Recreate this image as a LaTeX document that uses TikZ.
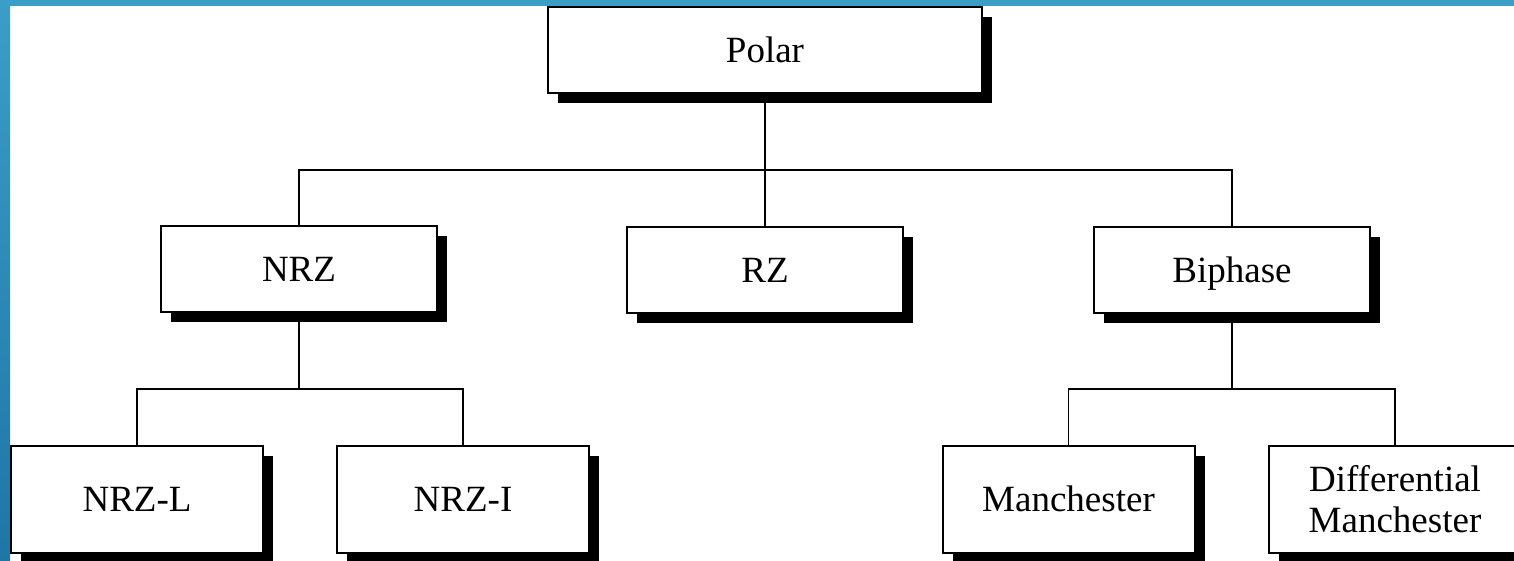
\documentclass[tikz,border=0pt]{standalone}
\usepackage{fontspec}
\setmainfont{Liberation Serif}
\usetikzlibrary{shadows}
\definecolor{bandtop}{HTML}{3B9EC8}
\definecolor{bandbot}{HTML}{1E76A6}
\tikzset{
  box/.style={draw=black, line width=2pt, fill=white, inner sep=0pt,
    align=center, font=\fontsize{37}{41}\selectfont,
    drop shadow={shadow xshift=10pt, shadow yshift=-10pt, fill=black, opacity=1}},
  oneline/.style={text height=24.5pt, text depth=0pt},
  midbox/.style={box, oneline, minimum width=276pt, minimum height=86pt},
  lowbox/.style={box, minimum width=252pt, minimum height=107pt},
  link/.style={draw=black, line width=1.8pt}
}
\begin{document}
\begin{tikzpicture}[x=1pt,y=1pt]
\useasboundingbox (0,0) rectangle (1514,-560);
\clip (0,0) rectangle (1514,-560);
\fill[white] (0,0) rectangle (1514,-560);
\fill[bandtop] (0,0) rectangle (1514,-6);
\shade[top color=bandtop, bottom color=bandbot] (0,0) rectangle (10,-560);
% nodes
\node[box, oneline, minimum width=434pt, minimum height=86pt] (polar) at (765,-50) {Polar};
\node[midbox] (nrz) at (299,-269) {NRZ};
\node[midbox] (rz) at (765,-270) {RZ};
\node[midbox] (biphase) at (1232,-270) {Biphase};
\node[lowbox, oneline] (nrzl) at (137,-499.5) {NRZ-L};
\node[lowbox, oneline] (nrzi) at (463,-499.5) {NRZ-I};
\node[lowbox, oneline] (manch) at (1068.5,-499.5) {Manchester};
\node[lowbox] (dman) at (1395,-499.5) {Differential\\Manchester};
% junctions
\coordinate (j1) at (765,-170);
\coordinate (j2) at (299,-389);
\coordinate (j3) at (1232,-389);
% connectors
\draw[link] (polar.south) -- (j1);
\draw[link] (j1) -| (nrz.north);
\draw[link] (j1) -- (rz.north);
\draw[link] (j1) -| (biphase.north);
\draw[link] (nrz.south) -- (j2);
\draw[link] (j2) -| (nrzl.north);
\draw[link] (j2) -| (nrzi.north);
\draw[link] (biphase.south) -- (j3);
\draw[link] (j3) -| (manch.north);
\draw[link] (j3) -| (dman.north);
\end{tikzpicture}
\end{document}
